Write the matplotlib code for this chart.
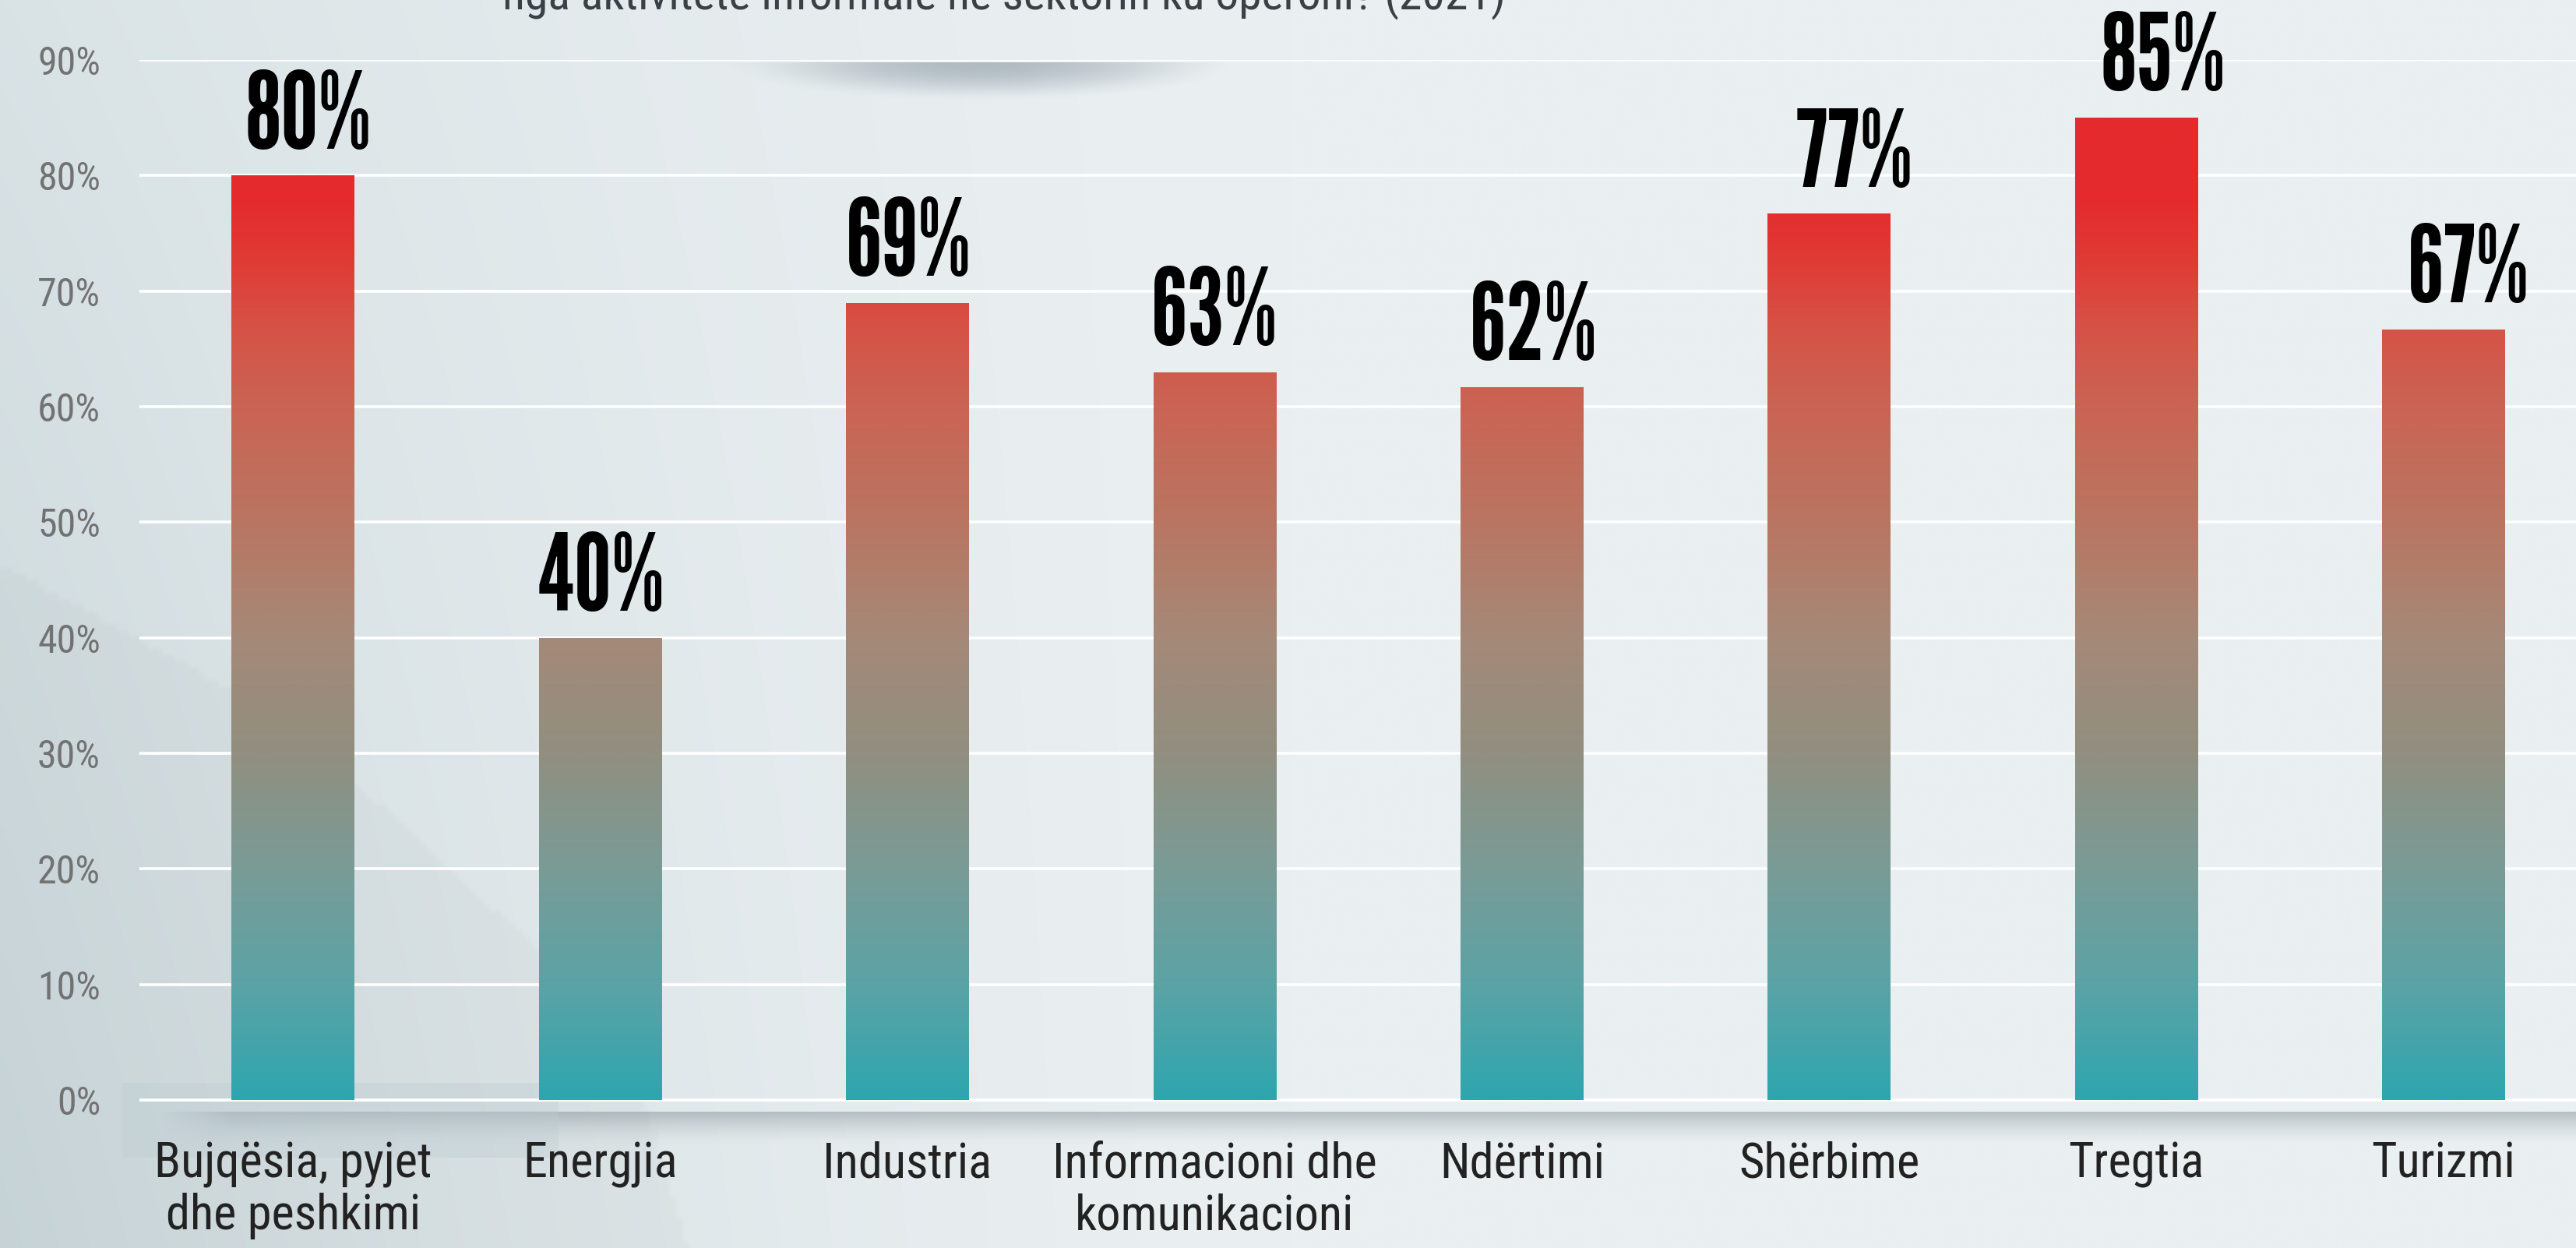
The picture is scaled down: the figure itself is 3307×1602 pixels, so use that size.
import numpy as np
import matplotlib
matplotlib.use("Agg")
import matplotlib.pyplot as plt
from matplotlib.colors import LinearSegmentedColormap
from matplotlib.patches import Rectangle

# data
sectors = ["Bujqësia, pyjet\ndhe peshkimi", "Energjia", "Industria",
           "Informacioni dhe\nkomunikacioni", "Ndërtimi", "Shërbime",
           "Tregtia", "Turizmi"]
shares = [80, 40, 69, 63, 61.7, 76.7, 85, 66.7]
value_labels = ["80%", "40%", "69%", "63%", "62%", "77%", "85%", "67%"]
yticks = [0, 10, 20, 30, 40, 50, 60, 70, 80, 90]
ytick_labels = ["0%", "10%", "20%", "30%", "40%", "50%", "60%", "70%", "80%", "90%"]
title_tail = "nga aktivitete informale në sektorin ku operoni? (2021)"

# small horizontal nudges of the value labels (points), as in the original layout
label_nudge = [14, 1, 1, 0, 11, 23, 25, 23]

W, H = 3307, 1602
fig = plt.figure(figsize=(W / 100, H / 100), dpi=100)

# ---- background -------------------------------------------------------
bg = fig.add_axes([0, 0, 1, 1], zorder=-10)
bg.set_xlim(0, W)
bg.set_ylim(H, 0)
bg.axis("off")
xx, yy = np.meshgrid(np.linspace(0, 1, 400), np.linspace(0, 1, 200))
light = np.array([234, 239, 241]) / 255
dark = np.array([203, 216, 220]) / 255
t = np.clip(1 - xx / 0.5, 0, 1) ** 1.6 * (0.55 + 0.45 * yy)
img = light[None, None, :] * (1 - t[..., None]) + dark[None, None, :] * t[..., None]
# darker wedge in the lower left corner
cx = np.array([0, 298, 456, 689, 821, 880]) / W
cy = np.array([725, 888, 1008, 1222, 1400, 1602]) / H
curve = np.interp(xx, cx, cy, right=2.0)
wedge = (yy > curve) & (xx < 880 / W)
img[wedge] = img[wedge] * 0.975
bg.imshow(img, extent=[0, W, H, 0], aspect="auto", interpolation="bilinear")

# soft shade under the title box
ex, ey = np.meshgrid(np.linspace(900, 1620, 300), np.linspace(80, 150, 60))
a = 1 - ((ex - 1258) / 330) ** 2 - ((ey - 80) / 50) ** 2
a = np.clip(a, 0, 1) ** 1.6 * 0.5
shade = np.zeros(ex.shape + (4,))
shade[..., :3] = np.array([120, 135, 148]) / 255
shade[..., 3] = a
bg.imshow(shade, extent=[900, 1620, 150, 80], aspect="auto", interpolation="bilinear")

# darker band behind baseline at the left
bg.add_patch(Rectangle((157, 1390), 560, 96, color=(0.74, 0.80, 0.82), alpha=0.35, lw=0))

# shadow under the baseline
sy = np.linspace(0, 1, 60)
sx = np.linspace(0, 1, 300)
SX, SY = np.meshgrid(sx, sy)
sh = np.zeros(SX.shape + (4,))
sh[..., :3] = np.array([140, 152, 158]) / 255
sh[..., 3] = (1 - SY) ** 1.5 * 0.55 * np.clip(SX / 0.03, 0, 1)
bg.imshow(sh, extent=[200, W, 1470, 1427], aspect="auto", interpolation="bilinear")

# ---- chart ------------------------------------------------------------
x0, y0 = 179, 1412
step = 394.4
ax = fig.add_axes([x0 / W, (H - y0) / H, (W - x0) / W, (y0 - 77) / H])
ax.patch.set_alpha(0)
xlim = (-0.5, (W - x0) / step - 0.5)

grad = LinearSegmentedColormap.from_list("bar", [
    (0.0, (46 / 255, 166 / 255, 175 / 255)),
    (10 / 90, (92 / 255, 163 / 255, 165 / 255)),
    (20 / 90, (122 / 255, 155 / 255, 150 / 255)),
    (30 / 90, (145 / 255, 143 / 255, 128 / 255)),
    (40 / 90, (165 / 255, 137 / 255, 120 / 255)),
    (50 / 90, (185 / 255, 118 / 255, 98 / 255)),
    (60 / 90, (202 / 255, 100 / 255, 84 / 255)),
    (67 / 90, (214 / 255, 82 / 255, 70 / 255)),
    (72 / 90, (222 / 255, 62 / 255, 55 / 255)),
    (78 / 90, (229 / 255, 42 / 255, 45 / 255)),
    (1.0, (229 / 255, 42 / 255, 45 / 255)),
])
ramp = np.linspace(0, 1, 512).reshape(-1, 1)

xpos = np.arange(len(sectors))
bars = ax.bar(xpos, shares, width=0.40, color="none", lw=0, zorder=3)
for b in bars:
    im = ax.imshow(ramp, cmap=grad, extent=[xlim[0], xlim[1], 0, 90],
                   origin="lower", aspect="auto", zorder=3, interpolation="bilinear")
    im.set_clip_path(b)

for xi, v, lab, dx in zip(xpos, shares, value_labels, label_nudge):
    ax.annotate(lab, (xi, v), xytext=(dx, 25), textcoords="offset points",
                ha="center", va="baseline", fontfamily="League Gothic",
                fontsize=98, color="black", annotation_clip=False)

# white baseline strip
ax.add_patch(Rectangle((xlim[0], -15 / 148.3), xlim[1] - xlim[0], 15 / 148.3,
                       color="white", lw=0, clip_on=False, zorder=4))

ax.set_xlim(*xlim)
ax.set_ylim(0, 90)
ax.set_yticks(yticks)
ax.set_yticklabels(ytick_labels, fontfamily="Roboto Condensed", fontsize=36,
                   color="#727272")
ax.set_xticks(xpos)
ax.set_xticklabels(sectors, fontfamily="Roboto Condensed", fontsize=45,
                   color="#222222", linespacing=1.14)
ax.tick_params(axis="y", length=0, pad=36)
ax.tick_params(axis="x", length=0, pad=38)
ax.yaxis.grid(True, color="white", lw=2.6, zorder=1)
ax.set_axisbelow(True)
for s in ax.spines.values():
    s.set_visible(False)

fig.text((618 + 1961) / 2 / W, 1 - 12 / H, title_tail, ha="center", va="baseline",
         fontfamily="Roboto Condensed", fontsize=43, color="#3b4047")

fig.savefig("out.png", dpi=100)
